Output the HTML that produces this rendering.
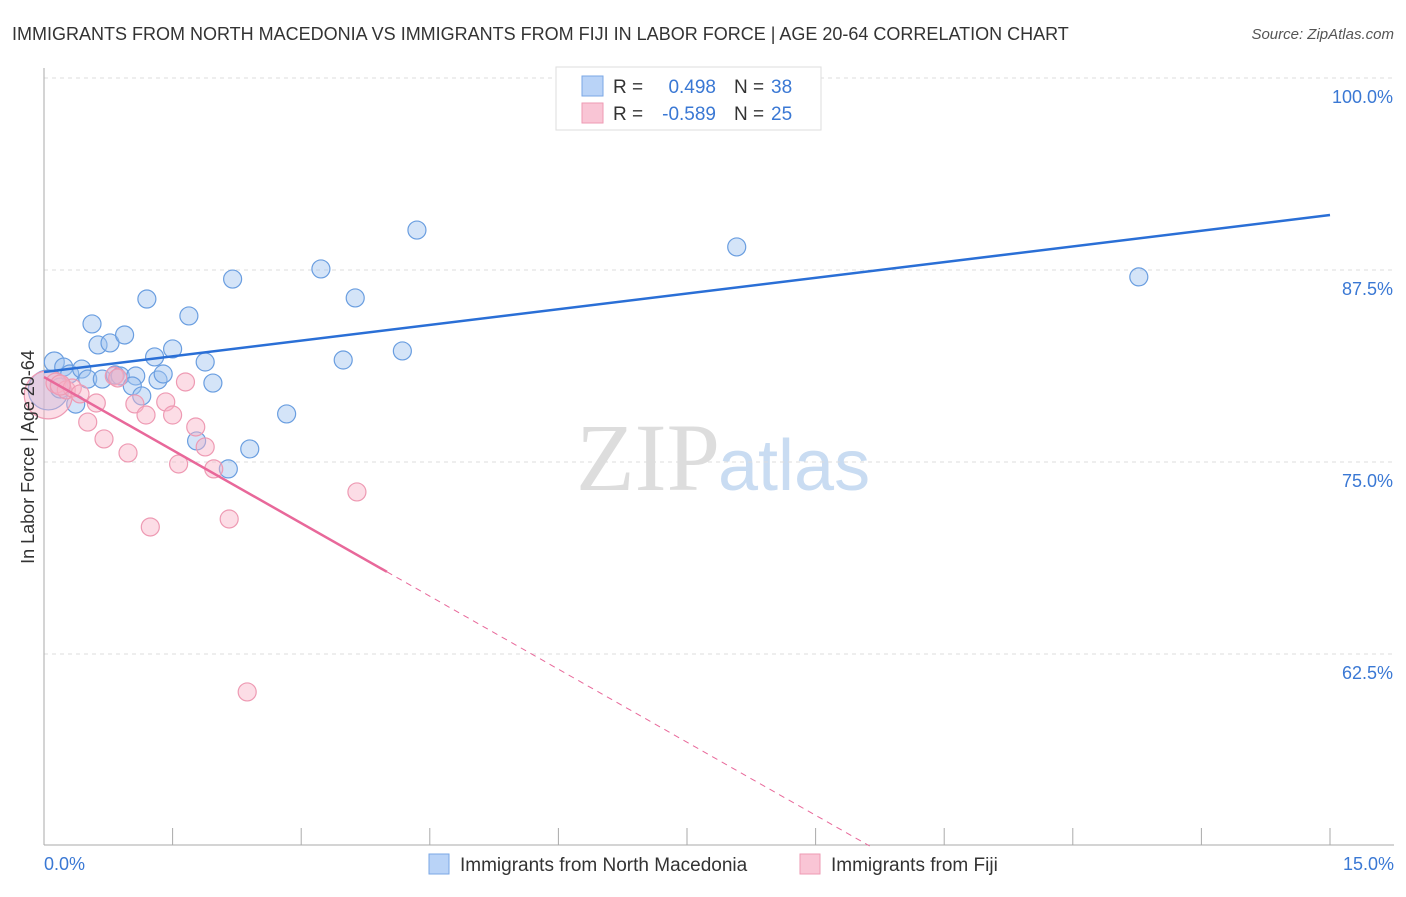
<!DOCTYPE html>
<html><head><meta charset="utf-8"><style>
body{margin:0;background:#fff;font-family:"Liberation Sans",sans-serif}
</style></head><body>
<svg id="c" width="1406" height="892" xmlns="http://www.w3.org/2000/svg" style="font-family:'Liberation Sans',sans-serif">
<text x="12" y="40" font-size="18" fill="#333">IMMIGRANTS FROM NORTH MACEDONIA VS IMMIGRANTS FROM FIJI IN LABOR FORCE | AGE 20-64 CORRELATION CHART</text>
<text x="1394" y="39" font-size="15" fill="#555" font-style="italic" text-anchor="end">Source: ZipAtlas.com</text>
<text x="720" y="490" font-size="96" fill="#ddd" font-family="Liberation Serif" text-anchor="end">ZIP</text>
<text x="718" y="490" font-size="72" fill="#c9dcf2">atlas</text>
<g id="grid"></g><g id="axes"></g><g id="pts"></g><g id="lines"></g>
<text transform="translate(34,457) rotate(-90)" font-size="18" fill="#333" text-anchor="middle">In Labor Force | Age 20-64</text>
<text x="44" y="870" font-size="18" fill="#3a78d4">0.0%</text>
<text x="1394" y="870" font-size="18" fill="#3a78d4" text-anchor="end">15.0%</text>
<g>
<rect x="556" y="67" width="265" height="63" fill="#fff" stroke="#ddd"/>
<rect x="582" y="76" width="21" height="20" fill="#b9d3f7" stroke="#7aa7e6"/>
<rect x="582" y="103" width="21" height="20" fill="#f9c5d5" stroke="#ee9ab3"/>
<text x="613" y="93" font-size="19" fill="#333">R =</text><text x="716" y="93" font-size="19" fill="#3a78d4" text-anchor="end">0.498</text>
<text x="734" y="93" font-size="19" fill="#333">N =</text><text x="771" y="93" font-size="19" fill="#3a78d4">38</text>
<text x="613" y="120" font-size="19" fill="#333">R =</text><text x="716" y="120" font-size="19" fill="#3a78d4" text-anchor="end">-0.589</text>
<text x="734" y="120" font-size="19" fill="#333">N =</text><text x="771" y="120" font-size="19" fill="#3a78d4">25</text>
</g>
<g>
<rect x="429" y="854" width="20" height="20" fill="#b9d3f7" stroke="#7aa7e6"/>
<text x="460" y="871" font-size="19" fill="#333">Immigrants from North Macedonia</text>
<rect x="800" y="854" width="20" height="20" fill="#f9c5d5" stroke="#ee9ab3"/>
<text x="831" y="871" font-size="19" fill="#333">Immigrants from Fiji</text>
</g>
</svg>
<script>
const yTicks=[100,87.5,75,62.5];
const yTickLabels=["100.0%","87.5%","75.0%","62.5%"];
const xTicks=[0,1.5,3,4.5,6,7.5,9,10.5,12,13.5,15];
const blueX=[0.12,0.23,0.30,0.44,0.51,0.37,0.56,0.63,0.77,0.68,0.94,0.83,0.89,1.07,1.03,1.14,1.20,1.29,1.33,1.39,1.50,1.69,1.88,1.97,1.78,2.15,2.20,2.40,2.83,3.23,3.49,3.63,4.18,4.35,8.08,12.77,0.05,0.19];
const blueY=[81.51,81.18,80.73,81.05,80.40,78.77,83.99,82.62,82.75,80.40,83.27,80.67,80.60,80.60,79.95,79.30,85.61,81.84,80.34,80.73,82.36,84.51,81.51,80.14,76.37,74.55,86.91,75.85,78.13,87.57,81.64,85.68,82.23,90.10,89.00,87.05,79.69,79.82];
const blueR=[10,9,9,9,9,9,9,9,9,9,9,9,9,9,9,9,9,9,9,9,9,9,9,9,9,9,9,9,9,9,9,9,9,9,9,9,20,10];
const pinkX=[0.05,0.14,0.26,0.33,0.42,0.51,0.61,0.70,0.82,0.98,1.06,1.19,1.24,1.42,1.50,1.57,1.65,1.77,1.88,1.98,2.16,2.37,3.65,0.19,0.86];
const pinkY=[79.37,80.14,79.69,79.82,79.43,77.60,78.84,76.50,80.60,75.59,78.78,78.06,70.77,78.91,78.06,74.87,80.21,77.28,75.98,74.55,71.29,60.03,73.05,80.01,80.47];
const pinkR=[24,10,9,9,9,9,9,9,9,9,9,9,9,9,9,9,9,9,9,9,9,9,9,10,9];
const blueTrend=[80.86,91.08];
const pinkTrend=[80.53,-3.17];
const X=v=>44+v/15*1286, Y=v=>78+(100-v)/12.5*192;
const NS="http://www.w3.org/2000/svg";
function mk(p,t,a){const e=document.createElementNS(NS,t);for(const k in a)e.setAttribute(k,a[k]);document.getElementById(p).appendChild(e);return e;}
yTicks.forEach((t,i)=>{
 const g=mk('grid','line',{x1:44,x2:1394,y1:Y(t),y2:Y(t),stroke:'#ddd','stroke-dasharray':'4,4'});
 
 
 const l=mk('grid','text',{x:1393,y:Y(t)+25,'font-size':18,fill:'#3a78d4','text-anchor':'end'});
 l.textContent=yTickLabels[i];
 
 
});
const ya=mk('axes','line',{x1:44,x2:44,y1:68,y2:845,stroke:'#aaa'});


const xa=mk('axes','line',{x1:44,x2:1394,y1:845,y2:845,stroke:'#aaa'});


xTicks.forEach(t=>{
 const k=mk('axes','line',{x1:X(t),x2:X(t),y1:828,y2:845,stroke:'#aaa'});
 
 
});
blueX.forEach((x,i)=>{
 const c=mk('pts','circle',{cx:X(x),cy:Y(blueY[i]),r:blueR[i],fill:'rgba(160,196,240,0.45)',stroke:'#6a9ee0','stroke-width':1.2});
 
 
});
pinkX.forEach((x,i)=>{
 const c=mk('pts','circle',{cx:X(x),cy:Y(pinkY[i]),r:pinkR[i],fill:'rgba(248,180,200,0.45)',stroke:'#ee9ab3','stroke-width':1.2});
 
 
});
const bl=mk('lines','line',{x1:X(0),y1:Y(blueTrend[0]),x2:X(15),y2:Y(blueTrend[1]),stroke:'#2a6fd6','stroke-width':2.5});


const pf=x=>pinkTrend[0]+pinkTrend[1]*x;
const pl=mk('lines','line',{x1:X(0),y1:Y(pf(0)),x2:X(4),y2:Y(pf(4)),stroke:'#e8689a','stroke-width':2.5});


const xe=(pinkTrend[0]-50)/-pinkTrend[1];
const pd=mk('lines','line',{x1:X(4),y1:Y(pf(4)),x2:X(xe),y2:Y(50),stroke:'#e8689a','stroke-width':1,'stroke-dasharray':'6,5'});


</script>
</body></html>
